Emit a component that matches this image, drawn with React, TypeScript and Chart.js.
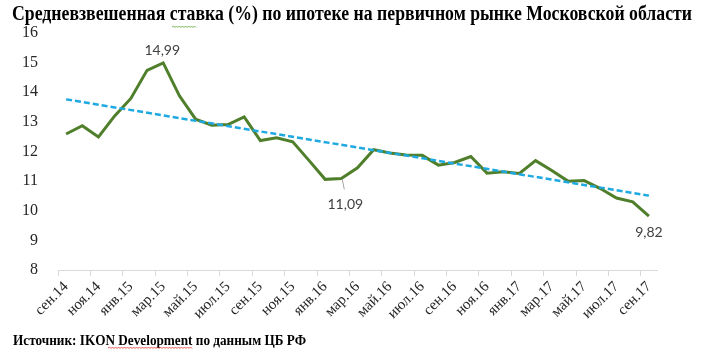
import React, { useEffect, useRef } from "react";
import { Chart, registerables } from "chart.js";

Chart.register(...registerables);

const months = [
  "сен.14", "окт.14", "ноя.14", "дек.14", "янв.15", "фев.15", "мар.15", "апр.15", "май.15", "июн.15",
  "июл.15", "авг.15", "сен.15", "окт.15", "ноя.15", "дек.15", "янв.16", "фев.16", "мар.16", "апр.16",
  "май.16", "июн.16", "июл.16", "авг.16", "сен.16", "окт.16", "ноя.16", "дек.16", "янв.17", "фев.17",
  "мар.17", "апр.17", "май.17", "июн.17", "июл.17", "авг.17", "сен.17",
];

const rate = [
  12.59, 12.87, 12.49, 13.2, 13.79, 14.74, 14.99, 13.88, 13.09, 12.89,
  12.91, 13.17, 12.37, 12.46, 12.33, 11.7, 11.06, 11.09, 11.45, 12.06,
  11.95, 11.88, 11.87, 11.54, 11.63, 11.83, 11.27, 11.32, 11.26, 11.69,
  11.36, 11.0, 11.02, 10.75, 10.43, 10.3, 9.82,
];

const trendStart = 13.76;
const trendEnd = 10.51;

const labelledIndices = [6, 17, 36];

const yMin = 8;
const yMax = 16;

const titleText = "Средневзвешенная ставка (%) по ипотеке на первичном рынке Московской области";
const sourceText = "Источник: IKON Development по данным ЦБ РФ";

function wavy(x1: number, x2: number, y: number) {
  let d = `M${x1} ${y}`;
  let up = true;
  for (let x = x1 + 1.5; x <= x2; x += 1.5) {
    d += ` L${x} ${up ? y - 1 : y + 0.5}`;
    up = !up;
  }
  return d;
}

export default function App() {
  const ref = useRef<HTMLCanvasElement | null>(null);

  useEffect(() => {
    if (!ref.current) return;
    const trend = months.map((_, i) => (i === 0 ? trendStart : i === months.length - 1 ? trendEnd : null));

    const labelOffsets: Record<number, { dx: number; dy: number; leader?: boolean }> = {
      6: { dx: -1, dy: -12 },
      17: { dx: 4, dy: 26, leader: true },
      36: { dx: 0, dy: 16 },
    };

    const dataLabels = {
      id: "dataLabels",
      afterDatasetsDraw(chart: any) {
        const meta = chart.getDatasetMeta(1);
        const ctx = chart.ctx;
        ctx.save();
        labelledIndices.forEach((idx) => {
          const pt = meta.data[idx];
          if (!pt) return;
          const o = labelOffsets[idx];
          const x = pt.x + o.dx;
          const y = pt.y + o.dy;
          if (o.leader) {
            ctx.strokeStyle = "#a6a6a6";
            ctx.lineWidth = 1;
            ctx.beginPath();
            ctx.moveTo(pt.x + 1, pt.y + 1);
            ctx.lineTo(pt.x + 3, pt.y + 11);
            ctx.stroke();
          }
          ctx.fillStyle = "#404040";
          ctx.font = "14px Lato";
          ctx.textAlign = "center";
          ctx.textBaseline = "middle";
          ctx.fillText(rate[idx].toFixed(2).replace(".", ","), x, y);
        });
        ctx.restore();
      },
    };

    const chart = new Chart(ref.current, {
      type: "line",
      data: {
        labels: months,
        datasets: [
          {
            label: "trend",
            data: trend,
            borderColor: "#1ea9e1",
            borderWidth: 2.5,
            borderDash: [6, 3],
            pointRadius: 0,
            spanGaps: true,
            fill: false,
            order: 0,
          },
          {
            label: "rate",
            data: rate,
            borderColor: "#4f7f2b",
            borderWidth: 3,
            pointRadius: 0,
            tension: 0,
            fill: false,
            order: 1,
          },
        ],
      },
      options: {
        responsive: false,
        animation: false,
        devicePixelRatio: 1,
        layout: { padding: { top: 33, right: 44, left: 0, bottom: 0 } },
        plugins: {
          legend: { display: false },
          tooltip: { enabled: false },
          title: { display: false },
        },
        scales: {
          x: {
            type: "category",
            offset: true,
            afterFit(scale: any) {
              scale.height = 84;
            },
            grid: {
              display: true,
              drawOnChartArea: false,
              drawTicks: true,
              tickLength: 6,
              offset: true,
              tickColor: (ctx: any) => (ctx.index % 2 === 0 ? "#d9d9d9" : "rgba(0,0,0,0)"),
            },
            border: { display: true, color: "#d9d9d9", width: 1 },
            ticks: {
              autoSkip: false,
              minRotation: 45,
              maxRotation: 45,
              padding: 2,
              color: "#262626",
              font: { family: "Liberation Serif", size: 15 },
              callback: (_v: any, i: number) => (i % 2 === 0 ? months[i] : ""),
            },
          },
          y: {
            min: yMin,
            max: yMax,
            afterFit(scale: any) {
              scale.width = 58;
            },
            grid: { display: false },
            border: { display: false },
            ticks: {
              stepSize: 1,
              padding: 12,
              color: "#262626",
              font: { family: "Liberation Serif", size: 16 },
            },
          },
        },
      },
      plugins: [dataLabels],
    } as any);

    return () => chart.destroy();
  }, []);

  return (
    <div style={{ position: "absolute", left: 0, top: 0, width: 701, height: 354, background: "#fff" }}>
      <canvas ref={ref} width={701} height={354} style={{ position: "absolute", left: 0, top: 0, width: 701, height: 354 }} />
      <svg
        width={701}
        height={354}
        style={{ position: "absolute", left: 0, top: 0, pointerEvents: "none" }}
      >
        <text
          x={12}
          y={20}
          fontFamily="Liberation Serif"
          fontWeight="bold"
          fontSize={20}
          fill="#000"
          textLength={680}
          lengthAdjust="spacingAndGlyphs"
        >
          {titleText}
        </text>
        <path d={wavy(172, 197, 27)} stroke="#5aa02c" strokeWidth={0.8} fill="none" />
        <text
          x={13}
          y={345}
          fontFamily="Liberation Serif"
          fontWeight="bold"
          fontSize={14}
          fill="#000"
          textLength={293}
          lengthAdjust="spacingAndGlyphs"
        >
          {sourceText}
        </text>
        <path d={wavy(108, 192, 348)} stroke="#e03030" strokeWidth={0.8} fill="none" />
      </svg>
    </div>
  );
}
